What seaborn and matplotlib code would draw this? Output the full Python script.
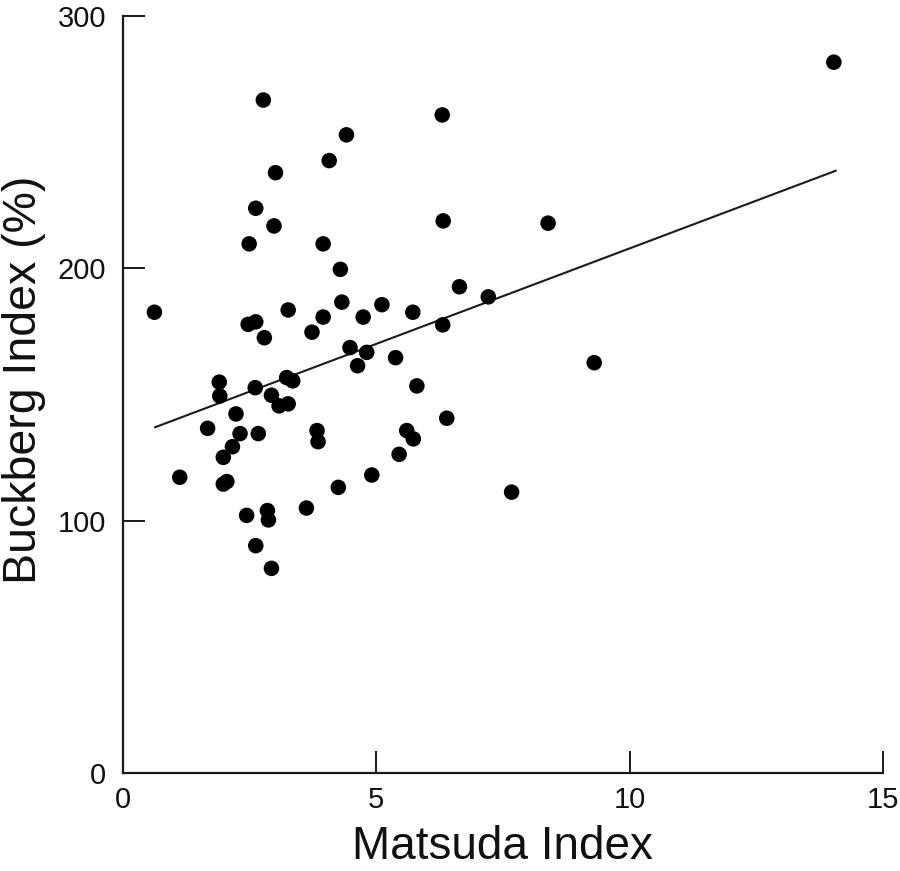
import matplotlib
matplotlib.use("Agg")
import matplotlib.pyplot as plt
import seaborn as sns
import pandas as pd

# ---- data ----
matsuda = [14.03, 2.77, 6.30, 4.41, 3.01, 4.07, 2.62, 2.49, 2.98, 6.32,
           8.39, 3.95, 4.29, 0.62, 3.26, 4.32, 5.11, 3.95, 4.74, 5.72,
           6.64, 7.21, 2.47, 2.62, 6.31, 2.79, 3.73, 4.48, 4.81, 4.63,
           5.38, 9.30, 1.90, 1.91, 2.61, 3.23, 3.35, 5.80, 2.93, 3.08,
           3.26, 1.67, 2.23, 2.31, 2.16, 1.98, 2.67, 3.83, 3.85, 5.60,
           5.73, 6.39, 5.45, 1.12, 1.98, 2.05, 4.91, 4.25, 7.67, 3.62,
           2.44, 2.85, 2.87, 2.62, 2.93]
buckberg = [281.7, 266.7, 260.8, 252.9, 237.9, 242.7, 223.8, 209.7, 216.8, 218.8,
            217.9, 209.7, 199.6, 182.6, 183.5, 186.6, 185.6, 180.7, 180.7, 182.6,
            192.7, 188.7, 177.8, 178.8, 177.6, 172.5, 174.7, 168.6, 166.7, 161.4,
            164.6, 162.6, 154.9, 149.4, 152.7, 156.7, 155.4, 153.4, 149.7, 145.5,
            146.3, 136.6, 142.3, 134.5, 129.3, 125.1, 134.5, 135.7, 131.3, 135.7,
            132.4, 140.6, 126.3, 117.2, 114.5, 115.5, 118.1, 113.2, 111.3, 105.0,
            102.1, 104.0, 100.3, 90.1, 81.1]
fit_x = [0.63, 14.07]
fit_y = [137.0, 238.7]
x_ticks = [0, 5, 10, 15]
y_ticks = [0, 100, 200, 300]
x_label = "Matsuda Index"
y_label = "Buckberg Index (%)"

sns.set_theme(style="white")
plt.rcParams["font.family"] = ["Liberation Sans", "DejaVu Sans"]

df = pd.DataFrame({"x": matsuda, "y": buckberg})
fit = pd.DataFrame({"x": fit_x, "y": fit_y})

fig = plt.figure(figsize=(9, 8.71), dpi=100)
ax = fig.add_axes([123 / 900, 1 - 773 / 871, 760 / 900, 757 / 871])

sns.lineplot(data=fit, x="x", y="y", ax=ax, color="#1a1a1a", linewidth=1.5)
sns.scatterplot(data=df, x="x", y="y", ax=ax, color="black", s=125,
                edgecolor="none", linewidth=0, clip_on=False, zorder=3)

ax.set_xlim(0, 15)
ax.set_ylim(0, 300)
ax.set_xticks(x_ticks)
ax.set_yticks(y_ticks)
ax.set_xticklabels([str(t) for t in x_ticks])
ax.set_yticklabels([str(t) for t in y_ticks])

for side in ["top", "right"]:
    ax.spines[side].set_visible(False)
for side in ["left", "bottom"]:
    ax.spines[side].set_color("#1a1a1a")
    ax.spines[side].set_linewidth(1.6)

ax.tick_params(axis="both", which="major", bottom=True, left=True,
               direction="in", length=16, width=1.4,
               color="#1a1a1a", labelsize=21, labelcolor="#111111")
ax.tick_params(axis="y", pad=12)
ax.tick_params(axis="x", pad=9)

ax.set_xlabel(x_label, fontsize=33, color="#111111", labelpad=8)
ax.set_ylabel(y_label, fontsize=33.5, color="#111111")
ax.yaxis.set_label_coords(-0.101, 0.52)
ax.grid(False)

fig.savefig("out.png", dpi=100, facecolor="white")
